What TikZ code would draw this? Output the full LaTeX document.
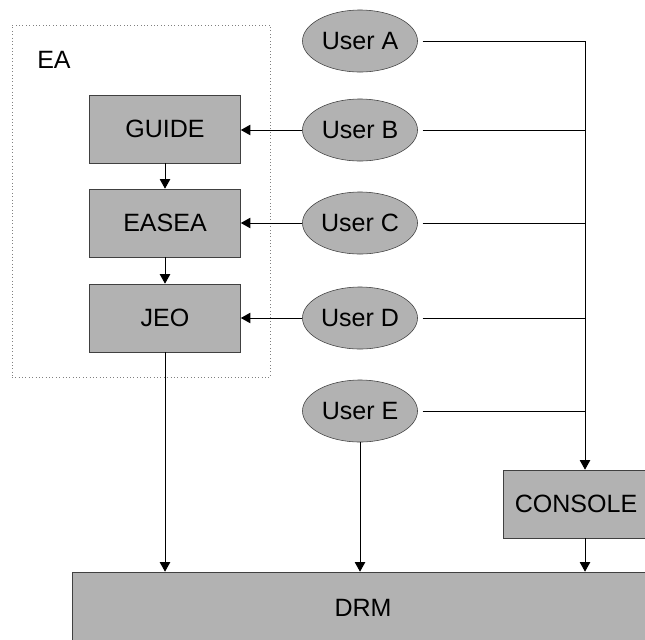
\documentclass[tikz,border=0pt]{standalone}
\usepackage{fontspec}
\setmainfont{Liberation Sans}
\usetikzlibrary{shapes.geometric, arrows.meta}

\tikzset{
  txt/.style={font=\fontsize{17.8}{21}\selectfont},
  block/.style={txt, draw=black!75, fill=black!30, minimum width=3.775cm, minimum height=1.7cm, inner sep=0pt},
  user/.style={txt, ellipse, draw=black!75, fill=black!30, minimum width=2.875cm, minimum height=1.55cm, inner sep=0pt},
  link/.style={line width=0.7pt, black},
  arrow/.style={link, -{Triangle[length=0.24cm, width=0.26cm]}}
}

\begin{document}
\begin{tikzpicture}[x=0.025cm, y=-0.025cm]
    % Define parameters
    \def\busX{585}      % x of the vertical bus line
    \def\gap{3.5pt}     % gap between the ellipses and the bus lines

    \useasboundingbox (0,0) rectangle (645,639);
    \clip (0,0) rectangle (645,639);

    % Draw EA frame
    \node[draw=gray, dotted, minimum width=6.45cm, minimum height=8.8cm, inner sep=0pt] (ea) at (141,201) {};
    \node[txt, anchor=west, inner sep=0pt] (ealabel) at (37,60) {EA};

    % Draw EA blocks
    \node[block] (guide) at (165,129) {GUIDE};
    \node[block] (easea) at (165,223) {EASEA};
    \node[block] (jeo)   at (165,318) {JEO};

    % Draw users
    \foreach \name/\y in {A/41, B/130, C/223, D/318, E/411} {
        \node[user] (user\name) at (360,\y) {User \name};
    }

    % Draw console and DRM
    \node[block, minimum width=3.65cm] (console) at (576,504) {CONSOLE};
    \node[block, minimum width=14.55cm, minimum height=1.8cm] (drm) at (363,608) {DRM};

    % Draw bus to console
    \coordinate (bus) at (\busX,41);
    \draw[arrow, shorten <=\gap] (userA.east) -- (bus) -- (bus |- console.north);
    \foreach \name in {B, C, D, E} {
        \draw[link, shorten <=\gap] (user\name.east) -- (user\name.east -| bus);
    }

    % Draw users to EA blocks
    \foreach \name/\blk in {B/guide, C/easea, D/jeo} {
        \draw[arrow] (user\name.west) -- (user\name.west -| \blk.east);
    }
    \draw[arrow] (guide) -- (easea);
    \draw[arrow] (easea) -- (jeo);

    % Draw links to DRM
    \draw[arrow] (jeo.south) -- (jeo.south |- drm.north);
    \draw[arrow] (userE.south) -- (userE.south |- drm.north);
    \draw[arrow] (console.south -| bus) -- (drm.north -| bus);
\end{tikzpicture}
\end{document}
